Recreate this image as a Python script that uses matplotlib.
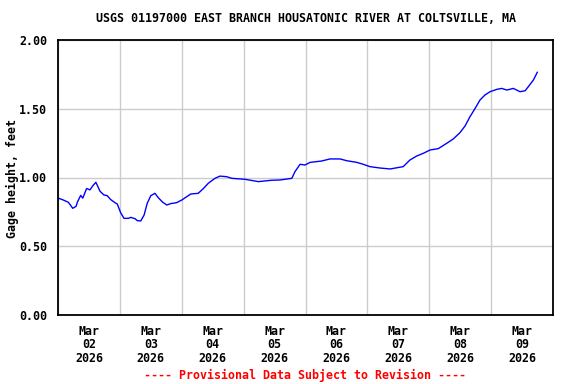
import matplotlib
matplotlib.use("Agg")
import matplotlib.pyplot as plt
import numpy as np

# Hours since 2026-03-02 00:00 and gage height (ft)
hours = [0.1, 2.1, 4.0, 5.0, 5.7, 7.0, 7.5, 8.8, 9.6, 11.1, 12.4, 13.5, 14.7, 16.3,
         17.8, 19.1, 20.4, 22.1, 23.0, 24.3, 25.6, 27.3, 28.2, 29.9, 30.8, 32.1,
         33.4, 34.6, 36.0, 37.6, 38.9, 40.6, 42.2, 43.7, 46.0, 48.0, 49.9, 51.5,
         54.4, 56.4, 58.3, 60.9, 62.8, 65.4, 67.4, 72.5, 77.7, 82.9, 86.1, 90.7,
         91.9, 93.9, 95.8, 97.8, 102.3, 105.5, 109.4, 112.0, 115.9, 118.4, 121.0,
         124.9, 128.8, 133.9, 136.5, 139.1, 141.7, 144.3, 147.5, 150.8, 153.3,
         155.9, 157.9, 159.8, 161.8, 163.7, 165.6, 167.6, 170.2, 172.1, 174.1,
         176.6, 179.2, 181.2, 182.4, 184.4, 185.9]
gage = [0.85, 0.836, 0.82, 0.795, 0.776, 0.79, 0.82, 0.87, 0.85, 0.92, 0.91, 0.94,
        0.965, 0.90, 0.873, 0.868, 0.84, 0.817, 0.807, 0.744, 0.703, 0.703, 0.71,
        0.70, 0.686, 0.684, 0.727, 0.812, 0.868, 0.885, 0.853, 0.82, 0.80, 0.81,
        0.817, 0.836, 0.86, 0.88, 0.885, 0.92, 0.958, 0.994, 1.01, 1.006, 0.994,
        0.987, 0.97, 0.98, 0.982, 0.994, 1.042, 1.096, 1.091, 1.11, 1.12, 1.135,
        1.135, 1.122, 1.11, 1.096, 1.079, 1.069, 1.062, 1.079, 1.127, 1.156, 1.176,
        1.20, 1.21, 1.249, 1.28, 1.326, 1.375, 1.442, 1.503, 1.564, 1.60, 1.624,
        1.641, 1.648, 1.636, 1.648, 1.624, 1.631, 1.66, 1.709, 1.765]

day_labels = ["Mar\n02\n2026", "Mar\n03\n2026", "Mar\n04\n2026", "Mar\n05\n2026",
              "Mar\n06\n2026", "Mar\n07\n2026", "Mar\n08\n2026", "Mar\n09\n2026"]
y_ticks = [0.0, 0.5, 1.0, 1.5, 2.0]
y_ticklabels = ["0.00", "0.50", "1.00", "1.50", "2.00"]

title = "USGS 01197000 EAST BRANCH HOUSATONIC RIVER AT COLTSVILLE, MA"
ylabel = "Gage height, feet"
footer = "---- Provisional Data Subject to Revision ----"

font = dict(family="DejaVu Sans Mono", weight="bold", size=8.4)

fig = plt.figure(figsize=(5.76, 3.84), dpi=100)
W, H = 576, 384
L, R, T, B = 58, 553, 40, 315
ax = fig.add_axes([L / W, 1 - B / H, (R - L) / W, (B - T) / H])

days = np.array(hours) / 24.0
ax.plot(days, gage, color="#0000ff", lw=1.0)

ax.set_xlim(0, 8)
ax.set_ylim(0, 2.0)
ax.set_xticks(np.arange(0, 9, 1))
ax.set_xticklabels([])
ax.set_xticks(np.arange(0.5, 8, 1), minor=True)
ax.set_xticklabels(day_labels, minor=True, fontdict=font, linespacing=1.05)
ax.set_yticks(y_ticks)
ax.set_yticklabels(y_ticklabels, fontdict=font)
ax.tick_params(axis="both", which="both", length=0)
ax.tick_params(axis="x", which="minor", pad=7)
ax.tick_params(axis="y", pad=8)
ax.grid(True, which="major", color="#cccccc", lw=1.0)
ax.set_axisbelow(True)
for s in ax.spines.values():
    s.set_color("black")
    s.set_linewidth(1.3)

fig.text((L + R) / 2 / W, 1 - 19 / H, title, ha="center", va="center", **font)
fig.text(12 / W, 1 - 178 / H, ylabel, ha="center", va="center", rotation=90, **font)
fig.text((L + R) / 2 / W, 1 - 375 / H, footer, ha="center", va="center",
         color="red", **font)

fig.savefig("out.png", dpi=100)
